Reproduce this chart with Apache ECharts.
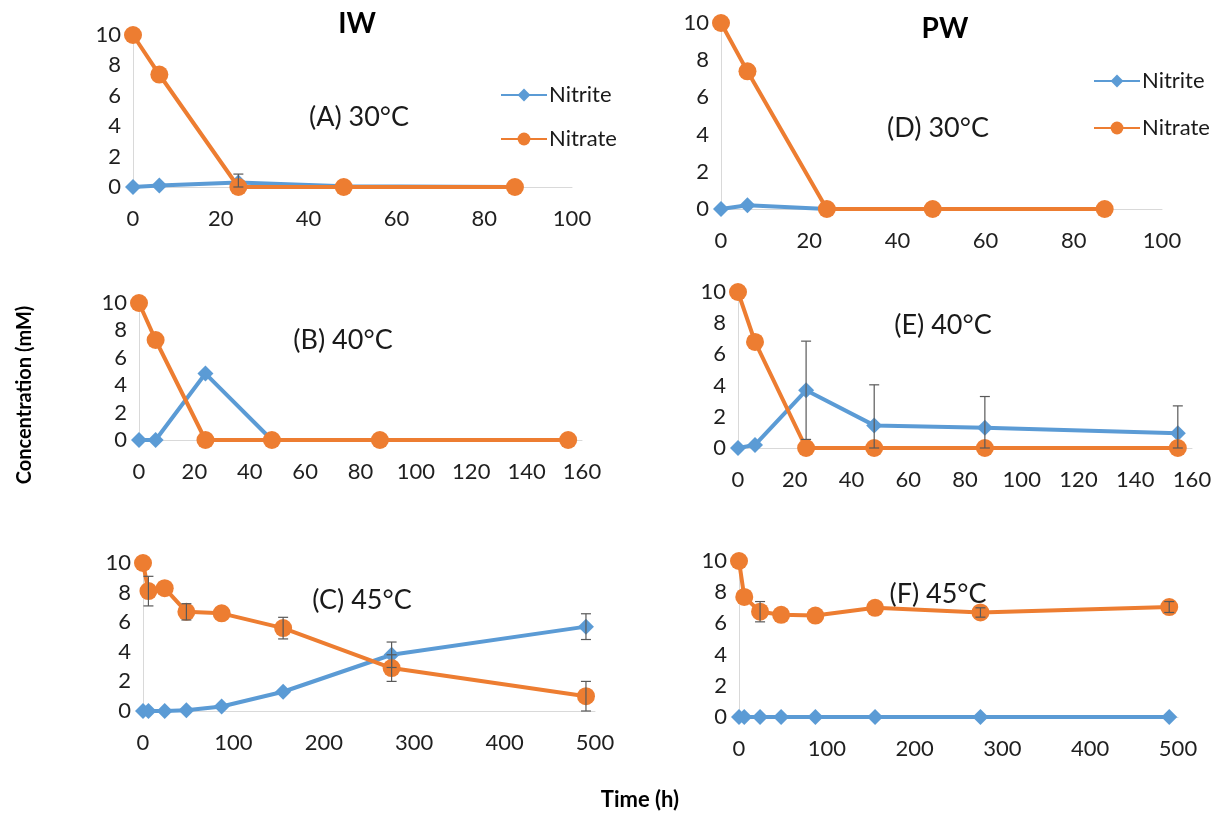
<!DOCTYPE html>
<html><head><meta charset="utf-8">
<script src="https://cdn.jsdelivr.net/npm/echarts@6/dist/echarts.min.js"></script>
<style>html,body{margin:0;padding:0;background:#fff}#c{width:1231px;height:818px}</style>
</head><body><div id="c"></div>
<script>
// ---- data ----
const tA = [0, 6, 24, 48, 87];
const A_nitrite = [0, 0.1, 0.3, 0.05, 0];
const A_nitriteErr = [0, 0, 0.55, 0, 0];
const A_nitrate = [10, 7.4, 0, 0, 0];

const tD = [0, 6, 24, 48, 87];
const D_nitrite = [0, 0.2, 0, 0, 0];
const D_nitrate = [10, 7.4, 0, 0, 0];

const tB = [0, 6, 24, 48, 87, 155];
const B_nitrite = [0, 0, 4.85, 0, 0, 0];
const B_nitrate = [10, 7.3, 0, 0, 0, 0];

const tE = [0, 6, 24, 48, 87, 155];
const E_nitrite = [0, 0.2, 3.7, 1.45, 1.3, 0.95];
const E_nitriteErr = [0, 0, 3.15, 2.6, 2.0, 1.75];
const E_nitrate = [10, 6.8, 0, 0, 0, 0];

const tC = [0, 6, 24, 48, 87, 155, 275, 490];
const C_nitrite = [0, 0, 0, 0.05, 0.3, 1.3, 3.8, 5.7];
const C_nitriteErr = [0, 0, 0, 0, 0, 0, 0.86, 0.87];
const C_nitrate = [10, 8.1, 8.3, 6.7, 6.6, 5.6, 2.9, 1.0];
const C_nitrateErr = [0, 1.0, 0, 0.55, 0, 0.73, 0.9, 1.0];

const tF = [0, 6, 24, 48, 87, 155, 275, 490];
const F_nitrite = [0, 0, 0, 0, 0, 0, 0, 0];
const F_nitrate = [10, 7.7, 6.75, 6.55, 6.5, 7.0, 6.7, 7.05];
const F_nitrateErr = [0, 0, 0.65, 0, 0, 0, 0.3, 0.35];

const xMax = [100, 160, 500, 100, 160, 500];
const xInt = [20, 20, 100, 20, 20, 100];

const BLUE = '#5B9BD5', ORANGE = '#ED7D31';
const FONT = 'Lato';

// ---- layout ----
const grids = [
  {left: 133, top: 35, width: 439, height: 152},   // A
  {left: 139, top: 303, width: 443, height: 137},  // B
  {left: 143, top: 563, width: 452, height: 148},  // C
  {left: 721, top: 23, width: 441, height: 186},   // D
  {left: 738, top: 292, width: 454, height: 156},  // E
  {left: 739, top: 561, width: 439, height: 156}   // F
];

const xAxes = grids.map((g, i) => ({
  type: 'value', gridIndex: i, min: 0, max: xMax[i], interval: xInt[i],
  axisLine: {show: true, onZero: false, lineStyle: {color: '#D9D9D9', width: 1}},
  axisTick: {show: false}, splitLine: {show: false},
  axisLabel: {color: '#1f1f1f', fontSize: 22, fontFamily: FONT, margin: 21}
}));
const yAxes = grids.map((g, i) => ({
  type: 'value', gridIndex: i, min: 0, max: 10, interval: 2,
  axisLine: {show: true, lineStyle: {color: '#D9D9D9', width: 1}},
  axisTick: {show: false}, splitLine: {show: false},
  axisLabel: {color: '#1f1f1f', fontSize: 22, fontFamily: FONT, margin: 12}
}));

function pairs(t, v) { return t.map((x, i) => [x, v[i]]); }
function errData(t, v, e) {
  const out = [];
  t.forEach((x, i) => { if (e[i] > 0) out.push([x, Math.max(0, v[i] - e[i]), v[i] + e[i]]); });
  return out;
}

function lineSeries(name, idx, t, v) {
  const isNitrite = name === 'Nitrite';
  return {
    name, type: 'line', xAxisIndex: idx, yAxisIndex: idx,
    data: pairs(t, v),
    symbol: isNitrite ? 'diamond' : 'circle',
    symbolSize: isNitrite ? 16 : 18,
    showAllSymbol: true,
    lineStyle: {color: isNitrite ? BLUE : ORANGE, width: 4},
    itemStyle: {color: isNitrite ? BLUE : ORANGE},
    z: isNitrite ? 2 : 3,
    animation: false
  };
}
function errSeries(idx, t, v, e) {
  return {
    type: 'custom', xAxisIndex: idx, yAxisIndex: idx,
    data: errData(t, v, e), z: 5, animation: false, silent: true,
    renderItem: function (params, api) {
      const x = api.value(0);
      const p1 = api.coord([x, api.value(1)]);
      const p2 = api.coord([x, api.value(2)]);
      const w = 5, st = {stroke: '#595959', lineWidth: 1.2};
      return {type: 'group', children: [
        {type: 'line', shape: {x1: p1[0], y1: p1[1], x2: p2[0], y2: p2[1]}, style: st},
        {type: 'line', shape: {x1: p1[0] - w, y1: p1[1], x2: p1[0] + w, y2: p1[1]}, style: st},
        {type: 'line', shape: {x1: p2[0] - w, y1: p2[1], x2: p2[0] + w, y2: p2[1]}, style: st}
      ]};
    }
  };
}

const series = [
  lineSeries('Nitrite', 0, tA, A_nitrite), lineSeries('Nitrate', 0, tA, A_nitrate), errSeries(0, tA, A_nitrite, A_nitriteErr),
  lineSeries('Nitrite', 1, tB, B_nitrite), lineSeries('Nitrate', 1, tB, B_nitrate),
  lineSeries('Nitrite', 2, tC, C_nitrite), lineSeries('Nitrate', 2, tC, C_nitrate),
  errSeries(2, tC, C_nitrite, C_nitriteErr), errSeries(2, tC, C_nitrate, C_nitrateErr),
  lineSeries('Nitrite', 3, tD, D_nitrite), lineSeries('Nitrate', 3, tD, D_nitrate),
  lineSeries('Nitrite', 4, tE, E_nitrite), lineSeries('Nitrate', 4, tE, E_nitrate), errSeries(4, tE, E_nitrite, E_nitriteErr),
  lineSeries('Nitrite', 5, tF, F_nitrite), lineSeries('Nitrate', 5, tF, F_nitrate), errSeries(5, tF, F_nitrate, F_nitrateErr)
];

function txt(x, y, s, size, bold, rot) {
  return {type: 'text', x, y, rotation: rot || 0,
    style: {text: s, fontSize: size, fontFamily: FONT, fontWeight: bold ? 'bold' : 'normal',
      fill: bold ? '#000' : '#1a1a1a', align: 'center', verticalAlign: 'middle'}};
}

const legendBase = {
  orient: 'vertical', data: ['Nitrite', 'Nitrate'], itemWidth: 46, itemHeight: 16,
  textStyle: {fontSize: 22, fontFamily: FONT, color: '#1a1a1a', padding: [0, 0, 0, -3]},
  selectedMode: false
};

const option = {
  backgroundColor: '#fff',
  animation: false,
  grid: grids,
  xAxis: xAxes,
  yAxis: yAxes,
  legend: [
    Object.assign({}, legendBase, {left: 495, top: 79, itemGap: 22}),
    Object.assign({}, legendBase, {left: 1088, top: 65, itemGap: 25})
  ],
  graphic: [
    txt(357, 24, 'IW', 28, true),
    txt(945, 29, 'PW', 28, true),
    txt(359, 117, '(A) 30°C', 27),
    txt(343, 340, '(B) 40°C', 27),
    txt(362, 600, '(C) 45°C', 27),
    txt(938, 128, '(D) 30°C', 27),
    txt(943, 325, '(E) 40°C', 27),
    txt(938, 594, '(F) 45°C', 27),
    txt(25, 395, 'Concentration (mM)', 20, true, Math.PI / 2),
    txt(640, 800, 'Time (h)', 22, true)
  ],
  series
};

const chart = echarts.init(document.getElementById('c'), null, {renderer: 'canvas'});
chart.setOption(option);
</script>
</body></html>
